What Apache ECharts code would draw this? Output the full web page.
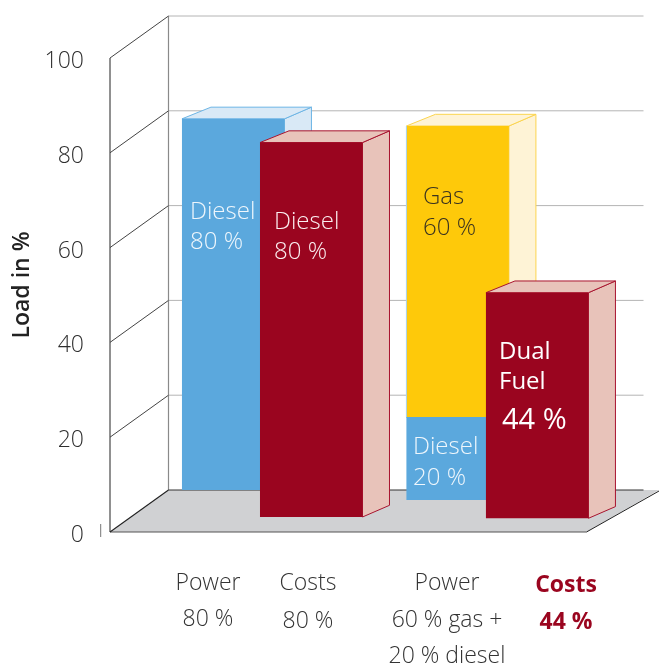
<!DOCTYPE html>
<html><head><meta charset="utf-8">
<style>html,body{margin:0;padding:0;background:#fff}#c{width:659px;height:668px}</style>
<script src="https://cdn.jsdelivr.net/npm/echarts@6/dist/echarts.min.js"></script>
</head><body><div id="c"></div>
<script>
const categories = ['Power', 'Costs', 'Power mix', 'Costs dual fuel'];
const dieselValues = [78.3, 79, 17.5, null];
const gasValues = [null, null, 61.4, null];
const dualFuelValues = [null, null, null, 47.6];
const yTicks = [0, 20, 40, 60, 80, 100];
const xLabelLines = [['Power', '80 %'], ['Costs', '80 %'], ['Power', '60 % gas +', '20 % diesel'], ['Costs', '44 %']];
const barLabels = [['Diesel', '80 %'], ['Diesel', '80 %'], ['Diesel', '20 %'], ['Gas', '60 %'], ['Dual', 'Fuel', '44 %']];

const FONT = '"Open Sans"';
const BACK = [58.5, -42], DEPTH = [27, -11.7], BAR_W = 102.5;
const slots = [
  {nudge: 63.65, lift: 42, skin: 'diesel'}, {nudge: 22.55, lift: 15, skin: 'red'},
  {nudge: 49.85, lift: 32, skin: 'diesel'}, {nudge: 10.25, lift: 13.7, skin: 'red'}
];
const xLabelPos = [
  {x: 208, y: [583, 619]}, {x: 308, y: [583, 621]},
  {x: 447, y: [583, 620, 656]}, {x: 566, y: [585, 622], bold: true}
];
const palette = {
  diesel: {front: '#5ba8dd', pale: '#d9e9f6', edge: '#6db5e5'},
  gas: {front: '#fec90a', pale: '#fef3d6', edge: '#fbd44f'},
  red: {front: '#9a051f', pale: '#e8c3ba', edge: '#a8142f'}
};
const inBar = [
  {x: 190, y: [212.5, 242.5], fill: '#eef6fc', font: '300 24px ' + FONT},
  {x: 274, y: [222.5, 252.5], fill: '#fbeef0', font: '300 24px ' + FONT},
  {x: 413, y: [447.5, 478], fill: '#eef6fc', font: '300 24px ' + FONT},
  {x: 423, y: [197.5, 228], fill: '#3a3320', font: '300 24px ' + FONT},
  {x: 499, y: [352.5, 382.5, 421], xs: [499, 499, 502], fill: '#ffffff',
   fonts: ['500 24px ' + FONT, '500 24px ' + FONT, '500 29px ' + FONT]}
];

function line(a, b, stroke, w) {
  return {type: 'line', shape: {x1: a[0], y1: a[1], x2: b[0], y2: b[1]}, style: {stroke, lineWidth: w || 1}, silent: true};
}
function poly(points, fill, stroke, w) {
  return {type: 'polygon', shape: {points}, style: {fill, stroke: stroke || null, lineWidth: w || 0}, silent: true};
}
function txt(x, y, text, fill, font, align) {
  return {type: 'text', style: {x, y, text, fill, font, align: align || 'left', verticalAlign: 'middle'}, silent: true};
}

function renderFrame(params, api) {
  const v = api.value(0);
  const y = api.coord([0, v])[1];
  const x0 = params.coordSys.x, x1 = x0 + params.coordSys.width;
  const kids = [];
  const bx = x0 + BACK[0], by = y + BACK[1];
  if (v === yTicks[0]) {
    const topY = api.coord([0, yTicks[yTicks.length - 1]])[1];
    kids.push(poly([[x0, y], [x1, y], [659, by], [bx, by]], '#d0d1d3'));
    kids.push(line([bx, by], [bx, topY + BACK[1]], '#8a8a8a', 1.2));
    kids.push(line([x0, y], [x0, topY], '#222', 1));
    kids.push(line([x0, y], [x1, y], '#555', 1.2));
    kids.push(line([x1, y], [659, by + 1], '#222', 1));
    kids.push(line([bx, by], [643.5, by], '#333', 1));
    kids.push(line([100.7, y - 8], [100.7, y + 5], '#777', 1));
    kids.push(line([x0, y], [bx, by], '#222', 1.1));
  } else {
    kids.push(line([bx, by], [643.5, by], '#b4b4b4', 1));
    kids.push(line([x0, y], [bx, by], '#444', 1));
  }
  return {type: 'group', children: kids};
}

function renderBar(params, api) {
  const i = api.value(0), start = api.value(1), end = api.value(2), isGas = api.value(3) === 1;
  const s = slots[i];
  const c = palette[isGas ? 'gas' : s.skin];
  const floor = api.coord([i, 0]);
  const left = floor[0] + s.nudge - BAR_W / 2, right = left + BAR_W;
  const base = floor[1] - s.lift;
  const yTop = base - (floor[1] - api.coord([i, end])[1]);
  const yBot = base - (floor[1] - api.coord([i, start])[1]);
  const d = DEPTH;
  const kids = [];
  kids.push(poly([[right, yBot], [right + d[0], yBot + d[1]], [right + d[0], yTop + d[1]], [right, yTop]], c.pale, c.edge, 1));
  kids.push(poly([[left, yTop], [left + d[0] + 2, yTop + d[1]], [right + d[0], yTop + d[1]], [right, yTop]], c.pale, c.edge, 1));
  kids.push({type: 'rect', shape: {x: left, y: yTop, width: BAR_W, height: yBot - yTop}, style: {fill: c.front}, silent: true});
  if (isGas) kids.push(line([left, yTop], [left, yBot], '#a9d2ec', 1));
  return {type: 'group', children: kids};
}

function renderText(params, api) {
  const kids = [];
  if (params.dataIndex !== 0) return {type: 'group', children: kids};
  barLabels.forEach((lines, k) => {
    const p = inBar[k];
    lines.forEach((t, j) => kids.push(txt(p.xs ? p.xs[j] : p.x, p.y[j], t, p.fill, p.fonts ? p.fonts[j] : p.font)));
  });
  xLabelLines.forEach((lines, k) => {
    const p = xLabelPos[k];
    lines.forEach((t, j) => kids.push(txt(p.x, p.y[j], t, p.bold ? '#9a051f' : '#333333',
      p.bold ? '700 23px ' + FONT : '300 23px ' + FONT, 'center')));
  });
  return {type: 'group', children: kids};
}

const barRows = [];
[0, 1, 2, 3].forEach(i => {
  let base = 0;
  if (dieselValues[i] != null) { barRows.push([i, base, base + dieselValues[i], 0]); base += dieselValues[i]; }
  if (gasValues[i] != null) { barRows.push([i, base, base + gasValues[i], 1]); base += gasValues[i]; }
  if (dualFuelValues[i] != null) { barRows.push([i, base, base + dualFuelValues[i], 2]); }
});

const chart = echarts.init(document.getElementById('c'), null, {renderer: 'canvas'});
chart.setOption({
  animation: false,
  backgroundColor: '#fff',
  grid: {left: 110, top: 58, width: 476.5, height: 474, containLabel: false, outerBoundsMode: 'none'},
  xAxis: {type: 'category', data: categories, show: false},
  yAxis: {
    type: 'value', min: 0, max: 100, interval: 20,
    axisLine: {show: false}, axisTick: {show: false}, splitLine: {show: false},
    axisLabel: {margin: 26, fontFamily: FONT, fontWeight: 300, fontSize: 23, color: '#2e2e2e',
      verticalAlign: 'top', lineHeight: 7},
    name: 'Load in %', nameLocation: 'middle', nameGap: 73, nameRotate: 90,
    nameTextStyle: {fontFamily: FONT, fontWeight: 600, fontSize: 23, color: '#222', padding: [0, 0, 0, 20]}
  },
  series: [
    {type: 'custom', name: 'frame', renderItem: renderFrame, data: yTicks.map(v => [v]), encode: {y: 0}, z: 1, silent: true, clip: false},
    {type: 'custom', name: 'bars', renderItem: renderBar, data: barRows, encode: {x: 0, y: 2}, z: 2, silent: true, clip: false},
    {type: 'custom', name: 'text', renderItem: renderText, data: [[0, 0]], z: 3, silent: true, clip: false}
  ]
});
</script></body></html>
